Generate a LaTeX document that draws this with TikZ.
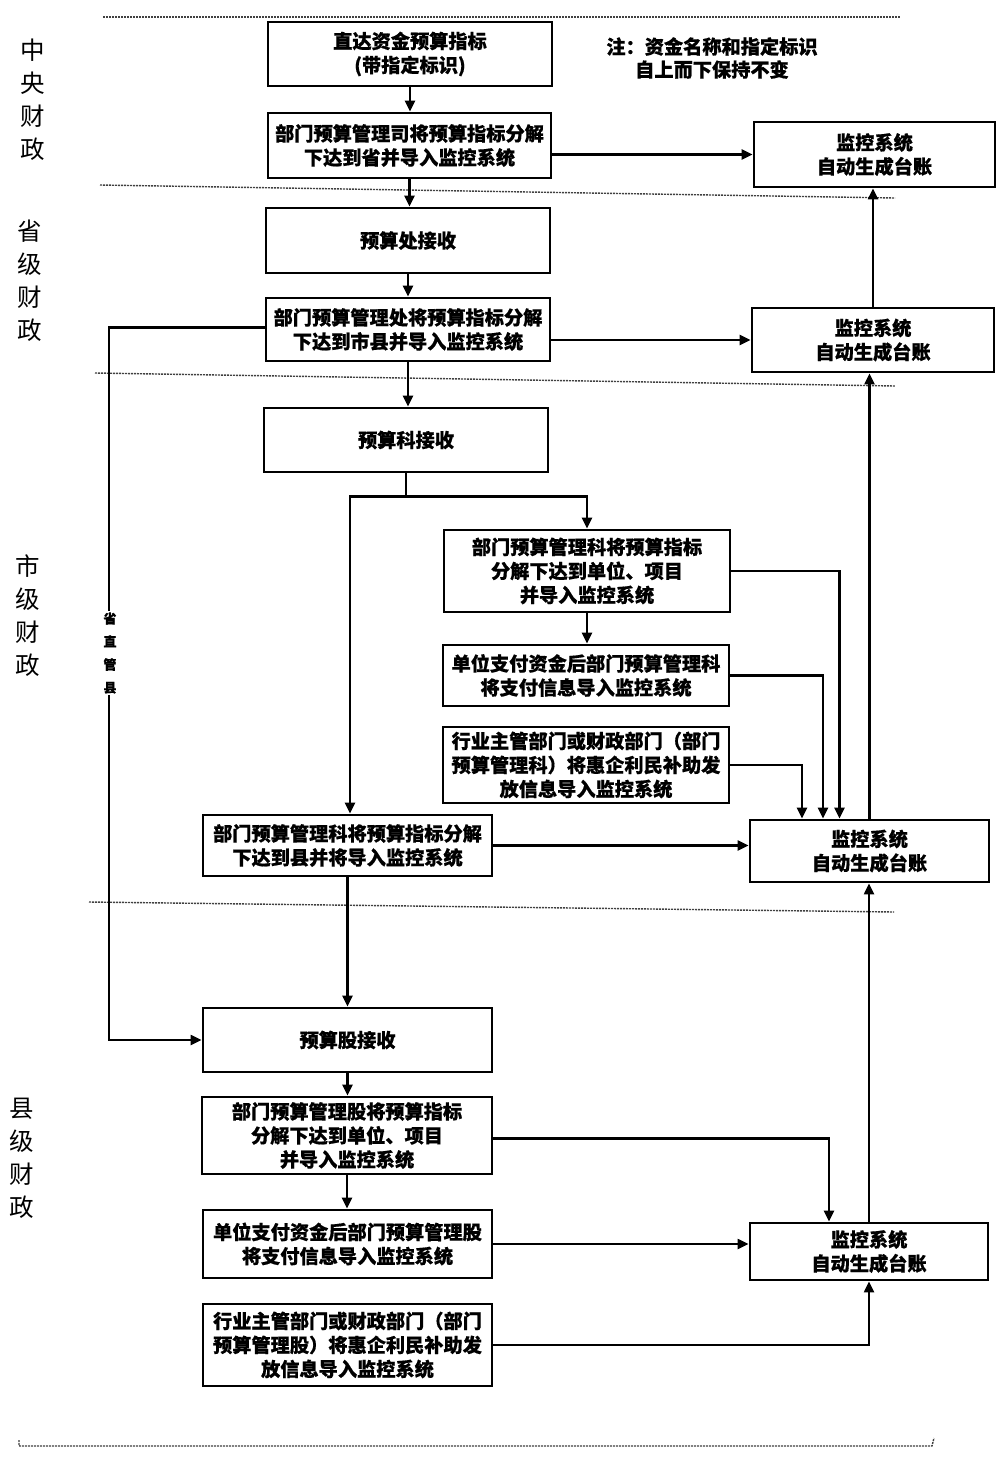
\documentclass[tikz,border=0pt]{standalone}
\usepackage{fontspec}
\newfontfamily\cjk{Noto Sans CJK SC}[BoldFeatures={FakeBold=0.6}]
\usetikzlibrary{arrows.meta}
\tikzset{
  box/.style={draw, line width=2.8pt, align=center, inner sep=0pt,
    font=\cjk\bfseries\fontsize{19.2}{24}\selectfont},
  conn/.style={line width=2.2pt, -{Triangle[length=11pt,width=10pt]}},
  plainline/.style={line width=2.2pt},
  sepline/.style={black!75, line width=1.4pt, dash pattern=on 2pt off 1pt},
  lvl/.style={font=\cjk\fontsize{24.5}{33}\selectfont, align=center, inner sep=0pt},
  note/.style={font=\cjk\bfseries\fontsize{19.2}{23}\selectfont, align=center, inner sep=0pt},
}
\begin{document}
\begin{tikzpicture}[x=1pt,y=-1pt]
\fill[white] (0,0) rectangle (1001,1460);
\useasboundingbox (0,0) rectangle (1001,1460);

% separators
\draw[sepline] (103,17) -- (900,17);
\draw[sepline] (100,185) -- (895,198);
\draw[sepline] (95,373) -- (895,386);
\draw[sepline] (89,902) -- (894,912);
\draw[sepline] (19,1440) -- (19,1446) -- (932,1446) -- (934,1438);

% level labels
\node[lvl] (lv1) at (33,100) {中\\央\\财\\政};
\node[lvl] (lv2) at (30,281) {省\\级\\财\\政};
\node[lvl] (lv3) at (28,616) {市\\级\\财\\政};
\node[lvl] (lv4) at (22,1158) {县\\级\\财\\政};

% note
\node[note] (nt) at (712,58) {注：资金名称和指定标识\\自上而下保持不变};

% boxes
\node[box, minimum width=284pt, minimum height=64pt] (A) at (410,54) {直达资金预算指标\\(带指定标识)};
\node[box, minimum width=283pt, minimum height=65pt] (B) at (409.5,145.5) {部门预算管理司将预算指标分解\\下达到省并导入监控系统};
\node[box, minimum width=241pt, minimum height=65pt] (M1) at (874.5,154.5) {监控系统\\自动生成台账};
\node[box, minimum width=284pt, minimum height=65pt] (C) at (408,240.5) {预算处接收};
\node[box, minimum width=284pt, minimum height=63pt] (D) at (408,329.5) {部门预算管理处将预算指标分解\\下达到市县并导入监控系统};
\node[box, minimum width=242pt, minimum height=64pt] (M2) at (873,340) {监控系统\\自动生成台账};
\node[box, minimum width=284pt, minimum height=64pt] (E) at (406,440) {预算科接收};
\node[box, minimum width=286pt, minimum height=82pt] (F) at (587,571) {部门预算管理科将预算指标\\分解下达到单位、项目\\并导入监控系统};
\node[box, minimum width=286pt, minimum height=61pt] (G) at (586,675.5) {单位支付资金后部门预算管理科\\将支付信息导入监控系统};
\node[box, minimum width=286pt, minimum height=76pt] (H) at (586,765) {行业主管部门或财政部门（部门\\预算管理科）将惠企利民补助发\\放信息导入监控系统};
\node[box, minimum width=289pt, minimum height=61pt] (I) at (347.5,845.5) {部门预算管理科将预算指标分解\\下达到县并将导入监控系统};
\node[box, minimum width=239pt, minimum height=62pt] (M3) at (869.5,851) {监控系统\\自动生成台账};
\node[box, minimum width=289pt, minimum height=64pt] (J) at (347.5,1040) {预算股接收};
\node[box, minimum width=290pt, minimum height=77pt] (K) at (347,1135.5) {部门预算管理股将预算指标\\分解下达到单位、项目\\并导入监控系统};
\node[box, minimum width=289pt, minimum height=68pt] (L) at (347.5,1244) {单位支付资金后部门预算管理股\\将支付信息导入监控系统};
\node[box, minimum width=289pt, minimum height=82pt] (N) at (347.5,1345) {行业主管部门或财政部门（部门\\预算管理股）将惠企利民补助发\\放信息导入监控系统};
\node[box, minimum width=238pt, minimum height=57pt] (M4) at (869,1251.5) {监控系统\\自动生成台账};

% connectors: central
\draw[conn] (A.south) -- (A.south |- B.north);
\draw[conn] (B.east |- M1.west) -- (M1.west);
\draw[conn] (B.south) -- (B.south |- C.north);
\draw[conn] (C.south) -- (C.south |- D.north);
\draw[conn] (D.east |- M2.west) -- (M2.west);
\draw[conn] (M2.north) -- (M2.north |- M1.south);
\draw[conn] (D.south) -- (D.south |- E.north);

% province-managed county
\draw[conn] ([yshift=2pt]D.west) -- ++(-156,0) |- (J.west);
\node[font=\cjk\bfseries\fontsize{13}{23}\selectfont, align=center, fill=white, inner sep=1pt] (sz) at (110,653) {省\\直\\管\\县};

% city level
\draw[plainline] (E.south) -- ++(0,23) coordinate (split);
\draw[conn] (split) -| (F.north);
\draw[conn] (split) -| ([xshift=2.5pt]I.north);
\draw[conn] (F.south) -- (F.south |- G.north);
\draw[conn] (F.east) -| ([xshift=-30pt]M3.north);
\draw[conn] (G.east) -| ([xshift=-46.5pt]M3.north);
\draw[conn] (H.east) -| ([xshift=-67.5pt]M3.north);
\draw[conn] (I.east) -- (I.east -| M3.west);
\draw[conn] (M3.north) -- (M3.north |- M2.south);

% county level
\draw[conn] (I.south) -- (I.south |- J.north);
\draw[conn] (J.south) -- (J.south |- K.north);
\draw[conn] (K.south) -- (K.south |- L.north);
\draw[conn] ([yshift=-3pt]K.east) -| ([xshift=-40pt]M4.north);
\draw[conn] (L.east) -- (L.east -| M4.west);
\draw[conn] (N.east) -| (M4.south);
\draw[conn] (M4.north) -- (M4.north |- M3.south);
\end{tikzpicture}
\end{document}
